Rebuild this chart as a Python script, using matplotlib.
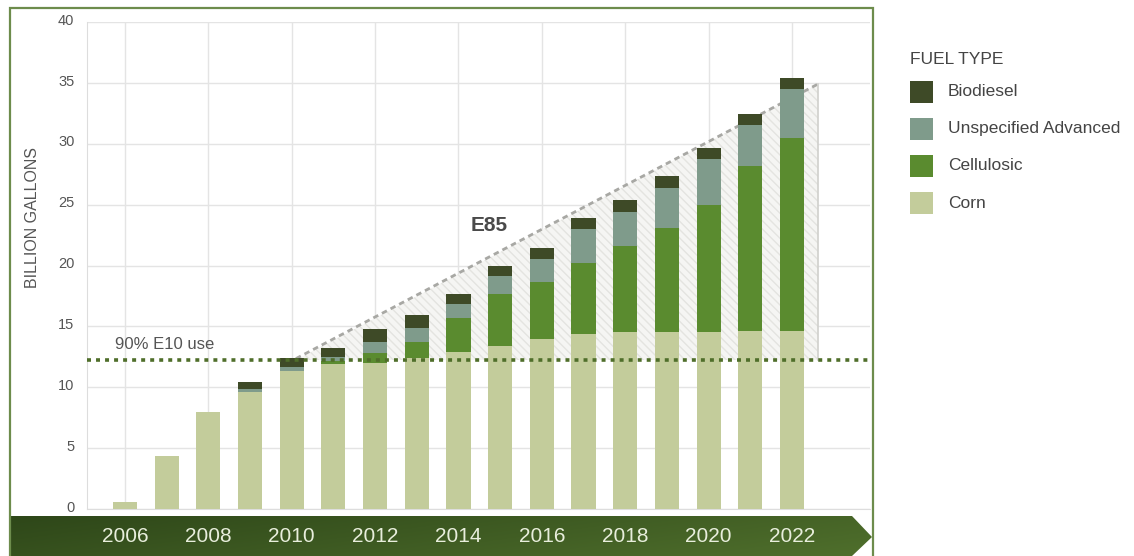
import numpy as np
import matplotlib
matplotlib.use('Agg')
from matplotlib import pyplot as plt
from matplotlib.patches import Polygon, Rectangle
from matplotlib.colors import LinearSegmentedColormap
from matplotlib.transforms import ScaledTranslation

plt.rcParams['font.family'] = ['Liberation Sans', 'DejaVu Sans']

# 各燃料类型的年度用量(十亿加仑)
years = list(range(2006, 2023))
corn = [0.6, 4.35, 7.95, 9.6, 11.3, 11.9, 12.0, 12.4, 12.9, 13.4, 14.0, 14.4, 14.5, 14.5, 14.5, 14.65, 14.65]
cellulosic = [0, 0, 0, 0, 0.05, 0.25, 0.8, 1.35, 2.8, 4.3, 4.65, 5.8, 7.1, 8.6, 10.45, 13.5, 15.8]
advanced = [0, 0, 0, 0.25, 0.35, 0.35, 0.9, 1.1, 1.1, 1.4, 1.9, 2.8, 2.8, 3.3, 3.8, 3.35, 4.05]
biodiesel = [0, 0, 0, 0.6, 0.7, 0.7, 1.05, 1.05, 0.9, 0.9, 0.9, 0.9, 0.95, 0.95, 0.9, 0.95, 0.9]

fuel_names = ['Biodiesel', 'Unspecified Advanced', 'Cellulosic', 'Corn']
fuel_colors = ['#3e4a27', '#7f9b8b', '#5a8b2f', '#c3cc9b']

e10_level = 12.24
e85_start = (2010.1, 12.35)
e85_end = (2022.62, 34.9)
year_labels = years[::2]
y_ticks = list(range(0, 41, 5))

W, H = 1134, 556
fig = plt.figure(figsize=(W / 100, H / 100), dpi=100)

# 背景层: 边框、底部箭头条、图例 (像素坐标)
bg = fig.add_axes([0, 0, 1, 1], zorder=0)
bg.set_xlim(0, W)
bg.set_ylim(H, 0)
bg.axis('off')

frame_col = '#6d8c4c'
bg.plot([10, 10, 873, 873], [H, 8, 8, H], color=frame_col, lw=1.6, solid_joinstyle='miter')

band_pts = [(10, 516), (852, 516), (872, 537), (852, H), (10, H)]
band = Polygon(band_pts, closed=True, facecolor='none', edgecolor='none')
bg.add_patch(band)
gx = np.linspace(0, 1, 300)
gy = np.linspace(0, 1, 40)
grad = 0.75 * gx[None, :] + 0.25 * gy[:, None]
cmap = LinearSegmentedColormap.from_list('band', ['#2e4719', '#4f6f2c'])
img = bg.imshow(grad, cmap=cmap, extent=[10, 872, H, 516], aspect='auto', origin='upper')
img.set_clip_path(band)

# 图例
bg.text(910, 60, 'FUEL TYPE', fontsize=12.5, color='#444444', va='center', ha='left')
for i, (name, col) in enumerate(zip(fuel_names, fuel_colors)):
    yc = 91.5 + i * 37.2
    bg.add_patch(Rectangle((910, yc - 11), 23, 22, facecolor=col, edgecolor='none'))
    bg.text(948, yc, name, fontsize=12.5, color='#444444', va='center', ha='left')

bg.text(33, 218, 'BILLION GALLONS', rotation=90, fontsize=11.5, color='#555555',
        ha='center', va='center')

# 主图
ax = fig.add_axes([87 / W, 1 - 509 / H, (870 - 87) / W, (509 - 22) / H], zorder=1)
ax.patch.set_alpha(0)
ax.set_xlim(2005.09, 2023.87)
ax.set_ylim(0, 40)

ax.set_yticks(y_ticks)
ax.set_xticks(year_labels)
ax.grid(True, color='#e4e4e4', lw=1)
ax.set_axisbelow(True)
ax.tick_params(axis='y', length=0, pad=9, labelsize=10.5, labelcolor='#555555')
ax.tick_params(axis='x', length=0, labelbottom=False)
# 刻度文字略微上移
for lbl in ax.get_yticklabels():
    lbl.set_transform(lbl.get_transform() + ScaledTranslation(0, 2 / 72, fig.dpi_scale_trans))
for s in ['top', 'right']:
    ax.spines[s].set_visible(False)
ax.spines['left'].set_color('#dddddd')
ax.spines['bottom'].set_color('#dddddd')

# E85 区域
tri = Polygon([(e85_start[0], e10_level), e85_end, (e85_end[0], e10_level)], closed=True,
              facecolor='#f5f5f3', edgecolor='#e4e4e0', hatch='\\\\\\\\', lw=0, zorder=1)
ax.add_patch(tri)
ax.plot([e85_start[0], e85_end[0]], [e85_start[1], e85_end[1]], color='#a8a8a4',
        lw=2, linestyle=(0, (2, 1.5)), zorder=2)
ax.plot([e85_end[0], e85_end[0]], [e10_level, e85_end[1]], color='#d0d0cc', lw=1.2, zorder=2)

# 堆叠柱
w = 0.58
bottom = np.zeros(len(years))
for vals, col in zip([corn, cellulosic, advanced, biodiesel], fuel_colors[::-1]):
    ax.bar(years, vals, width=w, bottom=bottom, color=col, zorder=3, lw=0)
    bottom += np.array(vals)

ax.axhline(e10_level, color='#4f6e2a', lw=2.6, linestyle=(0, (1.1, 1.4)), zorder=4)
ax.text(2005.76, 13.5, '90% E10 use', fontsize=12, color='#555555', va='center', ha='left', zorder=5)
ax.text(2014.73, 23.3, 'E85', fontsize=15, fontweight='bold', color='#4a4a4a',
        va='center', ha='center', zorder=5)

# 底部年份
for yr in year_labels:
    xp = ax.transData.transform((yr, 0))[0]
    bg.text(xp, 537, str(yr), fontsize=15, color='#e8eedc', ha='center', va='center',
            family=['Liberation Sans Narrow', 'Liberation Sans'])

fig.savefig('out.png', dpi=100)
